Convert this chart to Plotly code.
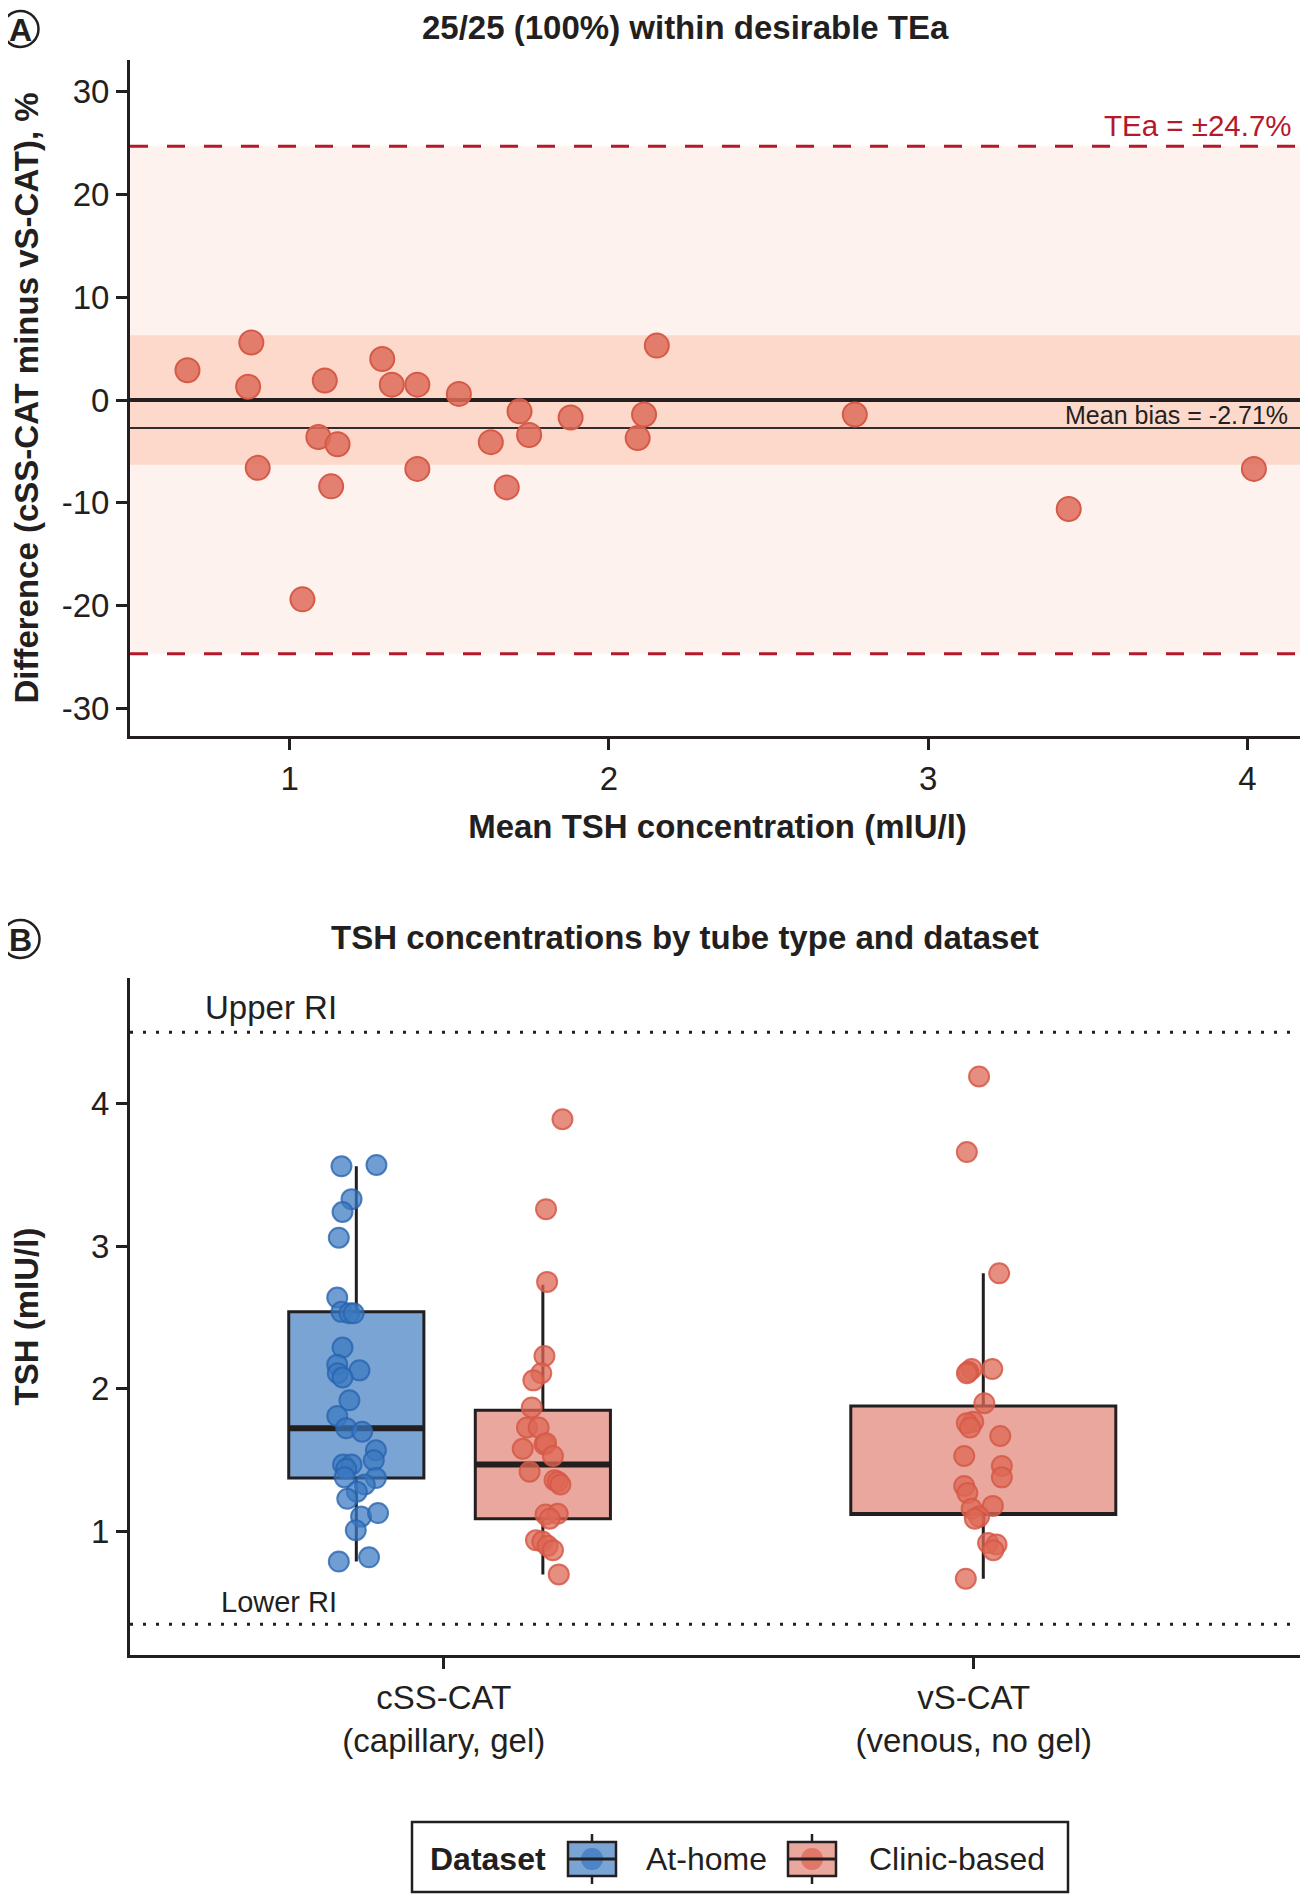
import plotly.graph_objects as go

# ---- panel A: Bland-Altman of cSS-CAT vs vS-CAT ----
mean_tsh = [0.68, 0.88, 0.87, 0.90, 1.04, 1.09, 1.11, 1.15, 1.13, 1.29, 1.32, 1.40, 1.40,
            1.53, 1.63, 1.68, 1.72, 1.75, 1.88, 2.09, 2.11, 2.15, 2.77, 3.44, 4.02]
diff_pct = [2.9, 5.6, 1.3, -6.6, -19.4, -3.6, 1.9, -4.3, -8.4, 4.0, 1.5, 1.5, -6.7,
            0.6, -4.1, -8.5, -1.1, -3.4, -1.7, -3.7, -1.4, 5.3, -1.4, -10.6, -6.7]
tea = 24.7
mean_bias = -2.71
inner_band = 6.3
a_xticks = [1, 2, 3, 4]
a_yticks = [-30, -20, -10, 0, 10, 20, 30]

# ---- panel B: TSH by tube type and dataset ----
tube_ticks = [1, 2]
tube_labels = ["cSS-CAT<br>(capillary, gel)", "vS-CAT<br>(venous, no gel)"]
b_yticks = [1, 2, 3, 4]
upper_ri = 4.5
lower_ri = 0.35

# box stats: [tube, dodge offset, width, lower, q1, median, q3, upper]
home_css_stats = [1, -0.165, 0.255, 0.79, 1.375, 1.725, 2.54, 3.56]
clinic_css_stats = [1, 0.187, 0.255, 0.70, 1.09, 1.47, 1.85, 2.73]
clinic_vs_stats = [2, 0.018, 0.50, 0.67, 1.12, 1.12, 1.88, 2.81]  # no median line drawn in original

home_css_tsh = [3.56, 3.57, 3.33, 3.24, 3.06, 2.64, 2.54, 2.53, 2.53, 2.29, 2.17, 2.13, 2.11,
                2.08, 1.92, 1.81, 1.725, 1.70, 1.57, 1.50, 1.47, 1.47, 1.44, 1.375, 1.38,
                1.33, 1.28, 1.23, 1.105, 1.13, 1.01, 0.79, 0.82]
home_css_jit = [-0.028, 0.038, -0.009, -0.026, -0.033, -0.036, -0.028, -0.013, -0.005, -0.026,
                -0.036, 0.006, -0.035, -0.026, -0.013, -0.036, -0.019, 0.011, 0.037, 0.033,
                -0.025, -0.009, -0.019, 0.037, -0.022, 0.016, 0.001, -0.017, 0.009, 0.041,
                -0.001, -0.033, 0.024]
clinic_css_tsh = [3.89, 3.26, 2.75, 2.23, 2.11, 2.06, 1.87, 1.73, 1.73, 1.61, 1.62, 1.58, 1.53,
                  1.42, 1.36, 1.35, 1.33, 1.12, 1.125, 1.09, 0.94, 0.93, 0.90, 0.87, 0.70]
clinic_css_jit = [0.037, 0.006, 0.008, 0.003, -0.003, -0.018, -0.021, -0.030, -0.008, 0.003,
                  0.006, -0.038, 0.019, -0.025, 0.022, 0.028, 0.033, 0.005, 0.028, 0.013,
                  -0.013, -0.001, 0.009, 0.019, 0.030]
clinic_vs_tsh = [4.19, 3.66, 2.81, 2.14, 2.14, 2.12, 2.11, 1.90, 1.77, 1.76, 1.73, 1.67, 1.53,
                 1.46, 1.38, 1.32, 1.27, 1.16, 1.18, 1.105, 1.09, 0.92, 0.91, 0.87, 0.67]
clinic_vs_jit = [-0.008, -0.031, 0.030, 0.017, -0.022, -0.028, -0.031, 0.002, -0.019, -0.031,
                 -0.025, 0.032, -0.036, 0.035, 0.035, -0.036, -0.030, -0.022, 0.018, -0.008,
                 -0.016, 0.009, 0.025, 0.019, -0.033]

FONT = "Liberation Sans"
INK = "#231F20"
BLUE_FILL = "rgba(78,134,196,0.75)"
RED_FILL = "rgba(221,120,104,0.65)"
BLUE_PT = "rgba(58,120,192,0.72)"
BLUE_EDGE = "rgba(40,100,175,0.8)"
RED_PT = "rgba(222,104,86,0.75)"
RED_EDGE = "rgba(214,88,70,0.85)"
TEA_RED = "#B5182B"

OFF = 8  # page body margin around the plot div
W, H = 1308 - OFF, 1896 - OFF
ML, MR, MT, MB = 122, 3, 52, 241
PW, PH = W - ML - MR, H - MT - MB


def px(x, y):
    # page pixel -> paper coords
    return (x - OFF - ML) / PW, (H - MB - (y - OFF)) / PH


fig = go.Figure()

# panel A points
fig.add_trace(go.Scatter(
    x=mean_tsh, y=diff_pct, mode="markers",
    marker=dict(size=24, color="rgba(222,108,90,0.85)", line=dict(color="#D65A48", width=2)),
    xaxis="x", yaxis="y",
))

# panel B boxes
def add_box(stats, fill, name):
    tube, off, wid, lo, q1, med, q3, up = stats
    fig.add_trace(go.Box(
        x=[tube + off], q1=[q1], median=[med], q3=[q3], lowerfence=[lo], upperfence=[up],
        width=wid, whiskerwidth=0, fillcolor=fill, line=dict(color=INK, width=3),
        boxpoints=False, name=name, hoverinfo="skip", xaxis="x2", yaxis="y2",
    ))

add_box(home_css_stats, BLUE_FILL, "At-home")
add_box(clinic_css_stats, RED_FILL, "Clinic-based")
add_box(clinic_vs_stats, RED_FILL, "Clinic-based")

# thicker median bars (the vS-CAT box shows none)
for stats in [home_css_stats, clinic_css_stats]:
    tube, off, wid, lo, q1, med, q3, up = stats
    fig.add_trace(go.Scatter(
        x=[tube + off - wid / 2, tube + off + wid / 2], y=[med, med], mode="lines",
        line=dict(color=INK, width=6), hoverinfo="skip", xaxis="x2", yaxis="y2",
    ))

# jittered points
for stats, vals, jit, col, edge in [
    (home_css_stats, home_css_tsh, home_css_jit, BLUE_PT, BLUE_EDGE),
    (clinic_css_stats, clinic_css_tsh, clinic_css_jit, RED_PT, RED_EDGE),
    (clinic_vs_stats, clinic_vs_tsh, clinic_vs_jit, RED_PT, RED_EDGE),
]:
    centre = stats[0] + stats[1]
    fig.add_trace(go.Scatter(
        x=[centre + j for j in jit], y=vals, mode="markers",
        marker=dict(size=20, color=col, line=dict(color=edge, width=2)),
        xaxis="x2", yaxis="y2",
    ))

# ---- reference bands / lines ----
fig.add_shape(type="rect", xref="x domain", yref="y", x0=0, x1=1, y0=-tea, y1=tea,
              fillcolor="#FEF2EE", line_width=0, layer="below")
fig.add_shape(type="rect", xref="x domain", yref="y", x0=0, x1=1, y0=-inner_band, y1=inner_band,
              fillcolor="#FCD9CB", line_width=0, layer="below")
for yv in [tea, -tea]:
    fig.add_shape(type="line", xref="x domain", yref="y", x0=0, x1=1, y0=yv, y1=yv,
                  line=dict(color=TEA_RED, width=3, dash="18px,19px"), layer="below")
fig.add_shape(type="line", xref="x domain", yref="y", x0=0, x1=1, y0=0, y1=0,
              line=dict(color=INK, width=4), layer="below")
fig.add_shape(type="line", xref="x domain", yref="y", x0=0, x1=1, y0=mean_bias, y1=mean_bias,
              line=dict(color="#2E2E2E", width=2), layer="below")
for yv in [upper_ri, lower_ri]:
    fig.add_shape(type="line", xref="x2 domain", yref="y2", x0=0, x1=1, y0=yv, y1=yv,
                  line=dict(color=INK, width=3, dash="3px,10px"), layer="below")

# panel letters in circles
for letter, cy, r in [("A", 29, 18), ("B", 939, 19)]:
    x0, y0 = px(20.5 - r, cy + r)
    x1, y1 = px(20.5 + r, cy - r)
    fig.add_shape(type="circle", xref="paper", yref="paper", x0=x0, x1=x1, y0=y0, y1=y1,
                  line=dict(color=INK, width=2.5))
    cx, cyp = px(20.5, cy + 1)
    fig.add_annotation(text=f"<b>{letter}</b>", xref="paper", yref="paper", x=cx, y=cyp,
                       showarrow=False, font=dict(size=32, color=INK), xanchor="center", yanchor="middle")

# ---- titles and labels ----
for text, cy in [("<b>25/25 (100%) within desirable TEa</b>", 28),
                 ("<b>TSH concentrations by tube type and dataset</b>", 937)]:
    tx, ty = px(685, cy)
    fig.add_annotation(text=text, xref="paper", yref="paper", x=tx, y=ty, showarrow=False,
                       xanchor="center", yanchor="middle", font=dict(size=33, color=INK))

fig.add_annotation(text=f"TEa = ±{tea}%", xref="x domain", yref="y", x=0.991, y=tea,
                   xanchor="right", yanchor="bottom", yshift=2, showarrow=False,
                   font=dict(size=29.5, color=TEA_RED))
fig.add_annotation(text=f"Mean bias = {mean_bias}%", xref="x domain", yref="y", x=0.987, y=mean_bias,
                   xanchor="right", yanchor="bottom", yshift=-3, showarrow=False,
                   font=dict(size=25, color=INK))
fig.add_annotation(text="Upper RI", xref="x2 domain", yref="y2", x=0.062, y=upper_ri,
                   xanchor="left", yanchor="bottom", yshift=4, showarrow=False,
                   font=dict(size=33, color=INK))
fig.add_annotation(text="Lower RI", xref="x2 domain", yref="y2", x=0.076, y=lower_ri,
                   xanchor="left", yanchor="bottom", yshift=4, showarrow=False,
                   font=dict(size=29, color=INK))

# ---- hand-drawn legend (box + whisker + dot icons) ----
lx0, ly0 = px(412, 1892)
lx1, ly1 = px(1068, 1822)
fig.add_shape(type="rect", xref="paper", yref="paper", x0=lx0, x1=lx1, y0=ly0, y1=ly1,
              line=dict(color=INK, width=2.5), fillcolor="white")
mx, my = px(428, 1859)
fig.add_annotation(text="<b>Dataset</b>", xref="paper", yref="paper", x=mx, y=my, xanchor="left",
                   yanchor="middle", showarrow=False, font=dict(size=32, color=INK))
for name, fill, dot, icon_x, text_x in [("At-home", BLUE_FILL, BLUE_PT, 592, 644),
                                        ("Clinic-based", RED_FILL, RED_PT, 812, 867)]:
    bx0, by0 = px(icon_x - 24, 1876)
    bx1, by1 = px(icon_x + 24, 1842)
    fig.add_shape(type="rect", xref="paper", yref="paper", x0=bx0, x1=bx1, y0=by0, y1=by1,
                  fillcolor=fill, line=dict(color=INK, width=2.5))
    wx, wtop = px(icon_x, 1834)
    _, wbot = px(icon_x, 1884)
    fig.add_shape(type="line", xref="paper", yref="paper", x0=wx, x1=wx, y0=by1, y1=wtop,
                  line=dict(color=INK, width=2.5))
    fig.add_shape(type="line", xref="paper", yref="paper", x0=wx, x1=wx, y0=by0, y1=wbot,
                  line=dict(color=INK, width=2.5))
    cx0, cy0 = px(icon_x - 11, 1870)
    cx1, cy1 = px(icon_x + 11, 1848)
    fig.add_shape(type="circle", xref="paper", yref="paper", x0=cx0, x1=cx1, y0=cy0, y1=cy1,
                  fillcolor=dot, line=dict(width=0))
    _, mline = px(icon_x, 1859)
    fig.add_shape(type="line", xref="paper", yref="paper", x0=bx0, x1=bx1, y0=mline, y1=mline,
                  line=dict(color=INK, width=3))
    tx, _ = px(text_x, 1859)
    fig.add_annotation(text=name, xref="paper", yref="paper", x=tx, y=my, xanchor="left",
                       yanchor="middle", showarrow=False, font=dict(size=32, color=INK))

axis_style = dict(showline=True, linecolor=INK, linewidth=3, ticks="outside", ticklen=11,
                  tickwidth=2.5, tickcolor=INK, showgrid=False, zeroline=False,
                  tickfont=dict(size=33, color=INK))

fig.update_layout(
    width=W, height=H,
    margin=dict(l=ML, r=MR, t=MT, b=MB),
    paper_bgcolor="white", plot_bgcolor="white",
    font=dict(family=FONT, color=INK),
    showlegend=False,
    xaxis=dict(axis_style, domain=[0, 1], range=[0.5, 4.18], tickvals=a_xticks,
               ticktext=[str(v) for v in a_xticks], anchor="y",
               title=dict(text="<b>Mean TSH concentration (mIU/l)</b>", font=dict(size=33), standoff=20)),
    yaxis=dict(axis_style, domain=[1 - 676 / PH, 1], range=[-32.7, 33.1],
               tickvals=a_yticks, ticktext=[str(v) for v in a_yticks], anchor="x",
               title=dict(text="<b>Difference (cSS-CAT minus vS-CAT), %</b>", font=dict(size=33), standoff=26)),
    xaxis2=dict(axis_style, domain=[0, 1], range=[0.408, 2.625], tickvals=tube_ticks,
                ticktext=tube_labels, anchor="y2"),
    yaxis2=dict(axis_style, domain=[0, 677 / PH], range=[0.135, 4.88], tickvals=b_yticks,
                ticktext=[str(v) for v in b_yticks], anchor="x2",
                title=dict(text="<b>TSH (mIU/l)</b>", font=dict(size=33), standoff=58)),
    boxmode="overlay",
)

fig.write_html("out.html")
